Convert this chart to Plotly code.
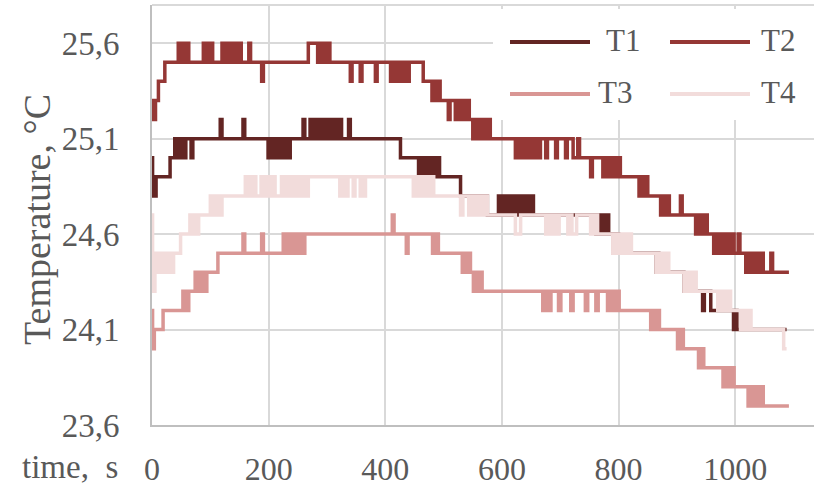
import plotly.graph_objects as go

# ---------------- data (time in s, temperature in degC) ----------------
SERIES_NAMES = ["T1", "T2", "T3", "T4"]
SERIES_COLORS = ["#632523", "#953735", "#D99694", "#F2DCDB"]

T1 = [(0, 25.0), (1, 24.8), (7, 24.9), (31, 25.0),
      (39, 25.1), (42, 25.0), (44, 25.1), (47, 25.0), (49, 25.1), (52, 25.0), (54, 25.1), (57, 25.0), (58, 25.1),
      (67, 25.0), (70, 25.1),
      (117, 25.2), (120, 25.1), (156, 25.2), (159, 25.1),
      (199, 25.0), (202, 25.1), (204, 25.0), (207, 25.1), (209, 25.0), (212, 25.1), (214, 25.0), (217, 25.1),
      (219, 25.0), (222, 25.1), (224, 25.0), (227, 25.1), (229, 25.0), (232, 25.1), (234, 25.0), (237, 25.1),
      (259, 25.2), (262, 25.1),
      (271, 25.2), (274, 25.1), (276, 25.2), (279, 25.1), (281, 25.2), (284, 25.1), (286, 25.2), (289, 25.1),
      (291, 25.2), (294, 25.1), (296, 25.2), (299, 25.1), (301, 25.2), (304, 25.1), (306, 25.2), (309, 25.1),
      (311, 25.2), (314, 25.1), (316, 25.2), (319, 25.1), (321, 25.2), (325, 25.1),
      (337, 25.2), (340, 25.1),
      (426, 25.0),
      (457, 24.9), (460, 25.0), (463, 24.9), (466, 25.0), (469, 24.9), (472, 25.0), (475, 24.9), (478, 25.0),
      (481, 24.9), (484, 25.0), (487, 24.9), (490, 25.0), (493, 24.9),
      (529, 24.8), (575, 24.7),
      (594, 24.8), (597, 24.7), (600, 24.8), (603, 24.7), (606, 24.8), (609, 24.7), (612, 24.8), (615, 24.7),
      (620, 24.8), (623, 24.7), (627, 24.8), (630, 24.7), (634, 24.8), (637, 24.7), (641, 24.8), (644, 24.7),
      (650, 24.8), (654, 24.7),
      (761, 24.6), (764, 24.7), (767, 24.6), (770, 24.7), (773, 24.6), (776, 24.7), (779, 24.6), (782, 24.7), (783, 24.6),
      (791, 24.5), (794, 24.6), (800, 24.5),
      (864, 24.4), (867, 24.5), (869, 24.4),
      (912, 24.3),
      (944, 24.2), (947, 24.3), (958, 24.2),
      (997, 24.1), (1000, 24.2), (1003, 24.1),
      (1088, 24.1)]

T2 = [(0, 25.2), (2, 25.3), (5, 25.2), (6, 25.3), (11, 25.4), (22, 25.5),
      (45, 25.6), (48, 25.5), (50, 25.6), (53, 25.5), (55, 25.6), (58, 25.5), (60, 25.6), (63, 25.5),
      (88, 25.6), (91, 25.5), (93, 25.6), (96, 25.5), (98, 25.6), (101, 25.5), (102, 25.6), (104, 25.5),
      (120, 25.6), (123, 25.5), (125, 25.6), (128, 25.5), (130, 25.6), (133, 25.5), (135, 25.6), (138, 25.5),
      (140, 25.6), (143, 25.5), (145, 25.6), (148, 25.5), (150, 25.6), (153, 25.5),
      (166, 25.6), (169, 25.5),
      (188, 25.4), (191, 25.5),
      (268, 25.6), (284, 25.5), (286, 25.6), (289, 25.5), (291, 25.6), (294, 25.5), (296, 25.6), (299, 25.5),
      (301, 25.6), (305, 25.5),
      (340, 25.4), (343, 25.5), (357, 25.4), (360, 25.5), (383, 25.4), (386, 25.5),
      (409, 25.4), (412, 25.5), (414, 25.4), (417, 25.5), (419, 25.4), (422, 25.5), (424, 25.4), (427, 25.5),
      (429, 25.4), (432, 25.5), (434, 25.4), (437, 25.5), (439, 25.4), (441, 25.5),
      (465, 25.4),
      (480, 25.3), (483, 25.4), (485, 25.3), (488, 25.4), (490, 25.3), (492, 25.4), (494, 25.3),
      (508, 25.2), (511, 25.3), (520, 25.2), (523, 25.3),
      (529, 25.2), (532, 25.3), (534, 25.2), (537, 25.3), (539, 25.2), (542, 25.3), (544, 25.2),
      (550, 25.1), (553, 25.2), (555, 25.1), (558, 25.2), (560, 25.1), (563, 25.2), (565, 25.1), (568, 25.2),
      (570, 25.1), (573, 25.2), (575, 25.1), (578, 25.2), (580, 25.1),
      (623, 25.0), (626, 25.1), (628, 25.0), (631, 25.1), (633, 25.0), (636, 25.1), (638, 25.0), (641, 25.1),
      (643, 25.0), (646, 25.1), (648, 25.0), (651, 25.1), (653, 25.0), (656, 25.1), (658, 25.0), (661, 25.1),
      (663, 25.0), (666, 25.1),
      (675, 25.0), (678, 25.1), (692, 25.0), (695, 25.1), (709, 25.0), (712, 25.1),
      (722, 25.0), (730, 25.1), (733, 25.0),
      (752, 24.9), (755, 25.0),
      (773, 24.9), (776, 25.0), (778, 24.9), (781, 25.0), (783, 24.9), (786, 25.0), (788, 24.9), (791, 25.0),
      (793, 24.9), (796, 25.0), (798, 24.9), (801, 25.0), (803, 24.9),
      (835, 24.8), (838, 24.9), (840, 24.8), (843, 24.9), (845, 24.8), (848, 24.9), (850, 24.8),
      (872, 24.7), (875, 24.8), (877, 24.7), (880, 24.8), (882, 24.7), (885, 24.8), (887, 24.7),
      (906, 24.8), (909, 24.7),
      (932, 24.6), (935, 24.7), (937, 24.6), (940, 24.7), (942, 24.6), (945, 24.7), (947, 24.6), (950, 24.7),
      (952, 24.6),
      (963, 24.5), (966, 24.6), (968, 24.5), (971, 24.6), (973, 24.5), (976, 24.6), (978, 24.5), (981, 24.6),
      (983, 24.5), (986, 24.6), (988, 24.5), (991, 24.6), (993, 24.5), (996, 24.6), (998, 24.5),
      (1005, 24.6), (1008, 24.5),
      (1018, 24.4), (1021, 24.5), (1023, 24.4), (1026, 24.5), (1028, 24.4), (1031, 24.5), (1033, 24.4),
      (1036, 24.5), (1038, 24.4), (1041, 24.5), (1043, 24.4), (1046, 24.5), (1048, 24.4),
      (1061, 24.5), (1064, 24.4), (1092, 24.4)]

T3 = [(0, 24.2), (1, 24.0), (4, 24.1), (19, 24.2),
      (53, 24.3), (56, 24.2), (58, 24.3), (61, 24.2), (63, 24.3),
      (74, 24.4), (77, 24.3), (79, 24.4), (82, 24.3), (84, 24.4), (87, 24.3), (89, 24.4), (92, 24.3), (94, 24.4),
      (113, 24.5),
      (156, 24.6), (159, 24.5), (188, 24.6), (191, 24.5),
      (225, 24.6), (228, 24.5), (230, 24.6), (233, 24.5), (236, 24.6), (239, 24.5), (242, 24.6), (245, 24.5),
      (247, 24.6), (250, 24.5), (252, 24.6), (255, 24.5), (258, 24.6), (260, 24.5), (262, 24.6),
      (412, 24.7), (415, 24.6), (436, 24.5), (439, 24.6),
      (481, 24.5), (484, 24.6), (486, 24.5), (489, 24.6), (491, 24.5),
      (532, 24.4), (535, 24.5), (537, 24.4), (540, 24.5), (542, 24.4), (545, 24.5), (546, 24.4),
      (551, 24.3), (554, 24.4), (556, 24.3), (559, 24.4), (561, 24.3), (564, 24.4), (566, 24.3),
      (670, 24.2), (673, 24.3), (675, 24.2), (678, 24.3), (680, 24.2), (684, 24.3),
      (697, 24.2), (701, 24.3), (718, 24.2), (722, 24.3), (743, 24.2), (747, 24.3), (761, 24.2), (765, 24.3),
      (781, 24.2), (784, 24.3), (786, 24.2), (789, 24.3), (791, 24.2), (794, 24.3), (796, 24.2), (799, 24.3),
      (801, 24.2),
      (855, 24.1), (858, 24.2), (860, 24.1), (863, 24.2), (865, 24.1), (868, 24.2), (870, 24.1),
      (901, 24.0), (904, 24.1), (906, 24.0), (909, 24.1), (911, 24.0),
      (937, 23.9), (940, 24.0), (942, 23.9), (945, 24.0), (946, 23.9),
      (979, 23.8), (982, 23.9), (984, 23.8), (987, 23.9), (989, 23.8), (992, 23.9), (994, 23.8), (997, 23.9),
      (998, 23.8),
      (1022, 23.7), (1025, 23.8), (1027, 23.7), (1030, 23.8), (1032, 23.7), (1035, 23.8), (1037, 23.7),
      (1040, 23.8), (1042, 23.7), (1045, 23.8), (1048, 23.7),
      (1092, 23.7)]

T4 = [(0, 24.7), (1, 24.3), (5, 24.4),
      (6, 24.5), (8, 24.4), (11, 24.5), (13, 24.4), (16, 24.5), (18, 24.4), (21, 24.5), (23, 24.4),
      (26, 24.5), (28, 24.4), (31, 24.5), (33, 24.4), (37, 24.5),
      (49, 24.6),
      (65, 24.7), (68, 24.6), (70, 24.7), (73, 24.6), (75, 24.7), (78, 24.6), (80, 24.7),
      (100, 24.8), (103, 24.7), (105, 24.8), (108, 24.7), (110, 24.8), (113, 24.7), (115, 24.8), (118, 24.7),
      (120, 24.8),
      (160, 24.9), (163, 24.8), (165, 24.9), (168, 24.8), (170, 24.9), (173, 24.8), (175, 24.9), (178, 24.8),
      (187, 24.9), (190, 24.8), (192, 24.9), (195, 24.8), (198, 24.9), (201, 24.8), (203, 24.9), (206, 24.8),
      (208, 24.9), (211, 24.8),
      (222, 24.9), (225, 24.8), (228, 24.9), (231, 24.8), (233, 24.9), (236, 24.8), (239, 24.9), (242, 24.8),
      (245, 24.9), (248, 24.8), (251, 24.9), (254, 24.8), (257, 24.9), (260, 24.8), (263, 24.9), (265, 24.8),
      (268, 24.9),
      (322, 24.8), (325, 24.9), (327, 24.8), (330, 24.9), (333, 24.8), (336, 24.9),
      (345, 24.8), (348, 24.9), (357, 24.8), (360, 24.9), (362, 24.8), (366, 24.9),
      (448, 24.8), (451, 24.9), (453, 24.8), (456, 24.9), (458, 24.8), (461, 24.9), (463, 24.8), (466, 24.9),
      (468, 24.8), (471, 24.9), (473, 24.8), (476, 24.9), (478, 24.8), (481, 24.9), (483, 24.8),
      (529, 24.7), (533, 24.8), (543, 24.7), (548, 24.8),
      (553, 24.7), (556, 24.8), (560, 24.7), (563, 24.8), (568, 24.7), (572, 24.8), (575, 24.7),
      (623, 24.6), (632, 24.7),
      (675, 24.6), (678, 24.7), (680, 24.6), (684, 24.7), (687, 24.6), (690, 24.7), (692, 24.6), (698, 24.7),
      (713, 24.6), (716, 24.7), (720, 24.6), (728, 24.7),
      (752, 24.6), (755, 24.7), (758, 24.6), (761, 24.7), (764, 24.6),
      (790, 24.5), (793, 24.6), (795, 24.5), (798, 24.6), (800, 24.5), (803, 24.6), (806, 24.5), (809, 24.6),
      (811, 24.5), (814, 24.6), (817, 24.5), (820, 24.6), (822, 24.5),
      (864, 24.4), (867, 24.5), (869, 24.4), (872, 24.5), (875, 24.4), (878, 24.5), (881, 24.4), (884, 24.5),
      (886, 24.4),
      (912, 24.3), (915, 24.4), (918, 24.3), (921, 24.4), (924, 24.3), (927, 24.4), (930, 24.3), (932, 24.4),
      (933, 24.3),
      (970, 24.2), (973, 24.3), (976, 24.2), (979, 24.3), (982, 24.2), (985, 24.3), (988, 24.2), (991, 24.3),
      (992, 24.2),
      (1009, 24.1), (1012, 24.2), (1015, 24.1), (1018, 24.2), (1021, 24.1), (1024, 24.2), (1027, 24.1),
      (1083, 24.0), (1088, 24.0)]

X_TICKS = [0, 200, 400, 600, 800, 1000]
Y_TICKS = [23.6, 24.1, 24.6, 25.1, 25.6]
X_RANGE = [0, 1135]
Y_RANGE = [23.6, 25.8]
X_LABEL = "time,\u00a0\u00a0s"
Y_LABEL = "Temperature, °C"

# ---------------- figure ----------------
FONT = "Liberation Serif, Times New Roman, serif"
TXT = "#595959"
GRID = "#d9d9d9"
AXIS = "#bfbfbf"

fig = go.Figure()
for name, color, data in zip(SERIES_NAMES, SERIES_COLORS, [T1, T2, T3, T4]):
    fig.add_trace(go.Scatter(
        x=[p[0] for p in data], y=[p[1] for p in data], name=name,
        mode="lines", line=dict(color=color, width=3.5, shape="hv"),
        showlegend=False, hoverinfo="skip"))

W, H = 820, 487
L, R, T, B = 152, 6, 5, 62
pw, ph = W - L - R, H - T - B


def px(xp):
    return (xp - L) / pw


def py(yp):
    return (H - B - yp) / ph


shapes = [dict(type="line", xref="paper", yref="paper", x0=0, x1=1, y0=1, y1=1,
               line=dict(color=GRID, width=2), layer="below"),
          dict(type="rect", xref="paper", yref="paper", x0=px(493), x1=px(816), y0=py(120), y1=py(9),
               fillcolor="white", line=dict(width=0), layer="above")]
annotations = []
legend_pos = [(510, 590, 42, 623), (670, 750, 42, 778), (510, 590, 94, 615), (670, 750, 94, 778)]
for (x0, x1, yy, tx), name, color in zip(legend_pos, SERIES_NAMES, SERIES_COLORS):
    shapes.append(dict(type="line", xref="paper", yref="paper", x0=px(x0), x1=px(x1), y0=py(yy), y1=py(yy),
                       line=dict(color=color, width=4), layer="above"))
    annotations.append(dict(xref="paper", yref="paper", x=px(tx), y=py(yy - 2), text=name, showarrow=False,
                            xanchor="center", yanchor="middle", font=dict(family=FONT, size=31, color=TXT)))

annotations.append(dict(xref="paper", yref="paper", x=px(37), y=py(220), text=Y_LABEL, textangle=-90,
                        showarrow=False, xanchor="center", yanchor="middle",
                        font=dict(family=FONT, size=38, color=TXT)))
annotations.append(dict(xref="paper", yref="paper", x=px(70), y=py(467), text=X_LABEL,
                        showarrow=False, xanchor="center", yanchor="middle",
                        font=dict(family=FONT, size=33, color=TXT)))

fig.update_layout(
    width=W, height=H, margin=dict(l=L, r=R, t=T, b=B, autoexpand=False),
    paper_bgcolor="white", plot_bgcolor="white",
    separators=",.",
    font=dict(family=FONT, size=33, color=TXT),
    shapes=shapes, annotations=annotations,
    xaxis=dict(range=X_RANGE, tickvals=X_TICKS, showgrid=True, gridcolor=GRID, gridwidth=2,
               showline=True, linecolor=AXIS, linewidth=2, zeroline=False, ticks="", automargin=False,
               ticklabelstandoff=15, tickfont=dict(family=FONT, size=32, color=TXT)),
    yaxis=dict(range=Y_RANGE, tickvals=Y_TICKS, tickformat=".1f", showgrid=True, gridcolor=GRID, gridwidth=2,
               showline=True, linecolor=AXIS, linewidth=2, zeroline=False, ticks="", automargin=False,
               ticklabelstandoff=24, tickfont=dict(family=FONT, size=33, color=TXT)),
)

fig.write_html("out.html", config={"displayModeBar": False, "staticPlot": True},
               post_script="document.body.style.margin='0';document.body.style.overflow='hidden';")
